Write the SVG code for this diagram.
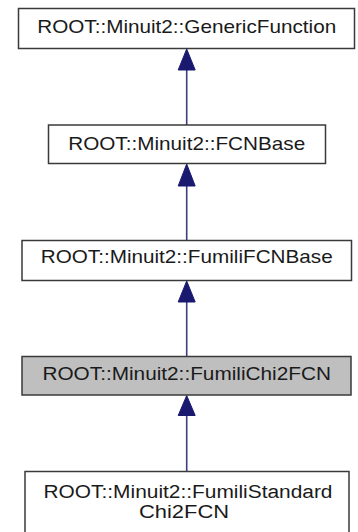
<svg xmlns="http://www.w3.org/2000/svg" width="358" height="532" viewBox="0 0 358 532">
  <style>
    .node rect { fill: #ffffff; stroke: #3a3a3a; stroke-width: 1.5; }
    .node.current rect { fill: #bfbfbf; }
    .node text { font-family: "Liberation Sans", Arial, sans-serif; font-size: 18.6px; fill: #1a1a1a; text-anchor: middle; }
    .node text.wrap { font-size: 18px; }
    .edge line { stroke: #3c3c82; stroke-width: 1.6; }
    .edge polygon { fill: #191970; stroke: #191970; stroke-width: 1; }
  </style>
  <rect x="0" y="0" width="358" height="532" fill="#ffffff"/>

  <!-- inheritance edges: arrowheads point at the base class -->
  <g id="edges" class="edge">
    <line x1="186.7" y1="69" x2="186.7" y2="125"/>
    <polygon points="186.7,49 178.2,70 195.2,70"/>
    <line x1="186.7" y1="185" x2="186.7" y2="240.5"/>
    <polygon points="186.7,164 178.2,186 195.2,186"/>
    <line x1="186.7" y1="301" x2="186.7" y2="356.5"/>
    <polygon points="186.7,281 178.2,302 195.2,302"/>
    <line x1="186.7" y1="414" x2="186.7" y2="471.5"/>
    <polygon points="186.7,395.5 178.2,415.5 195.2,415.5"/>
  </g>

  <g id="node-GenericFunction" class="node">
    <rect x="18.5" y="8.5" width="336" height="40"/>
    <text x="186.7" y="33.3" textLength="299" lengthAdjust="spacingAndGlyphs">ROOT::Minuit2::GenericFunction</text>
  </g>

  <g id="node-FCNBase" class="node">
    <rect x="48.5" y="125" width="277" height="38.5"/>
    <text x="186.7" y="150" textLength="237" lengthAdjust="spacingAndGlyphs">ROOT::Minuit2::FCNBase</text>
  </g>

  <g id="node-FumiliFCNBase" class="node">
    <rect x="22" y="240.5" width="329.5" height="40"/>
    <text x="186.7" y="263.3" textLength="292" lengthAdjust="spacingAndGlyphs">ROOT::Minuit2::FumiliFCNBase</text>
  </g>

  <g id="node-FumiliChi2FCN" class="node current">
    <rect x="22" y="356.5" width="329" height="38.5"/>
    <text x="186.7" y="380" textLength="288.5" lengthAdjust="spacingAndGlyphs">ROOT::Minuit2::FumiliChi2FCN</text>
  </g>

  <g id="node-FumiliStandardChi2FCN" class="node">
    <rect x="25" y="471.5" width="324" height="72"/>
    <text class="wrap" x="188" y="497.5" textLength="289" lengthAdjust="spacingAndGlyphs">ROOT::Minuit2::FumiliStandard</text>
    <text class="wrap" x="184" y="518" textLength="90" lengthAdjust="spacingAndGlyphs">Chi2FCN</text>
  </g>
</svg>
